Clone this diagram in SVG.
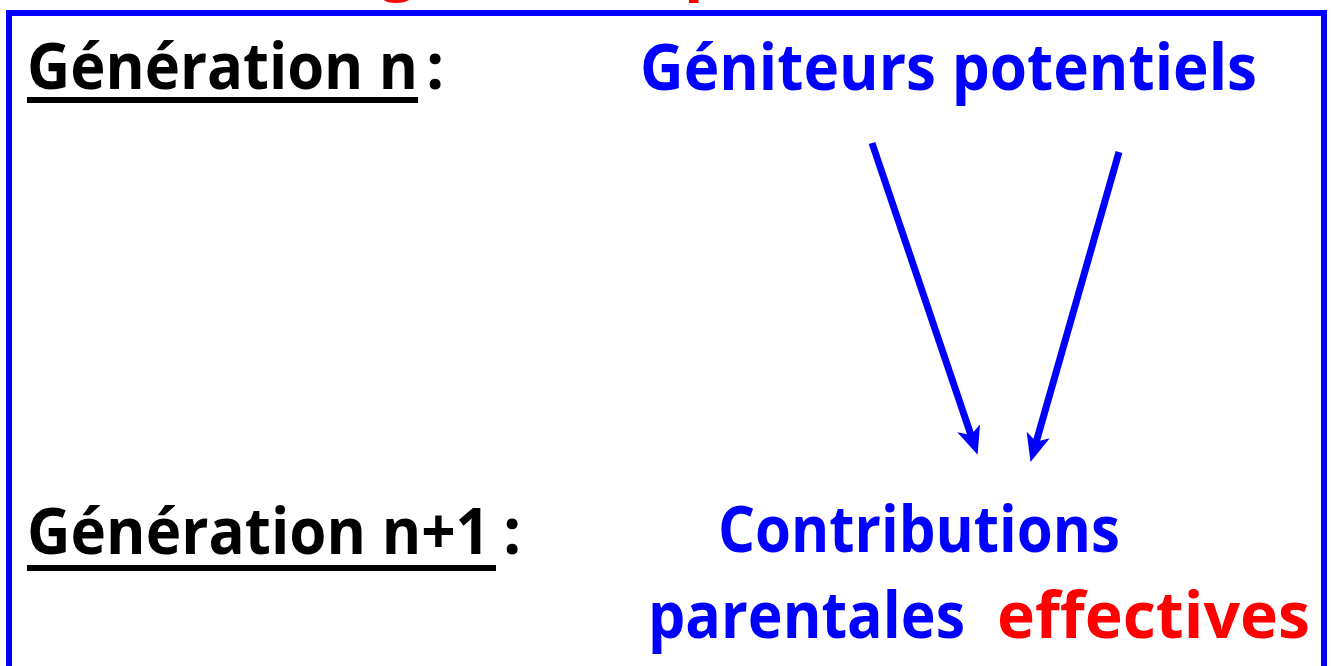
<svg xmlns="http://www.w3.org/2000/svg" width="1333" height="666" viewBox="0 0 1333 666">
<style>
.t{font-family:"Open Sans","Liberation Sans",sans-serif;font-weight:bold;font-size:64px}
.k{fill:#000}
.b{fill:#0000ff}
.r{fill:#ff0000}
.arr{stroke:#0000ff;stroke-width:7;fill:none;marker-end:url(#ah)}
</style>
<defs>
<marker id="ah" markerUnits="userSpaceOnUse" markerWidth="28" markerHeight="24" viewBox="0 0 28 24" refX="12" refY="12" orient="auto">
<path d="M0,0 L28,12 L0,24 L7,12 Z" fill="#0000ff"/>
</marker>
</defs>
<rect width="1333" height="666" fill="#fff"/>
<g id="title-fragments">
<text class="t r" x="380" y="-13">g</text>
<text class="t r" x="684" y="-13">p</text>
</g>
<path id="frame" d="M9,680 V13 H1324 V680" fill="none" stroke="#0000ff" stroke-width="6"/>
<g id="gen-n">
<text class="t k" x="27" y="89" textLength="391" lengthAdjust="spacingAndGlyphs">Génération n</text>
<rect x="27" y="97" width="391" height="6" fill="#000"/>
<text class="t k" x="426" y="89">:</text>
</g>
<g id="gen-n1">
<text class="t k" x="27" y="554" textLength="463" lengthAdjust="spacingAndGlyphs">Génération n+1</text>
<rect x="27" y="565" width="469" height="6" fill="#000"/>
<text class="t k" x="503" y="554">:</text>
</g>
<g id="geniteurs">
<text class="t b" x="640" y="90" textLength="617" lengthAdjust="spacingAndGlyphs">Géniteurs potentiels</text>
</g>
<g id="contributions">
<text class="t b" x="718" y="552" textLength="402" lengthAdjust="spacingAndGlyphs">Contributions</text>
<text class="t b" x="648" y="638" textLength="317" lengthAdjust="spacingAndGlyphs">parentales</text>
<text class="t r" x="997" y="638" textLength="313" lengthAdjust="spacingAndGlyphs">effectives</text>
</g>
<g id="connectors">
<line class="arr" x1="872" y1="143" x2="972.5" y2="439.7"/>
<line class="arr" x1="1119" y1="152" x2="1034.9" y2="446.5"/>
</g>
</svg>
